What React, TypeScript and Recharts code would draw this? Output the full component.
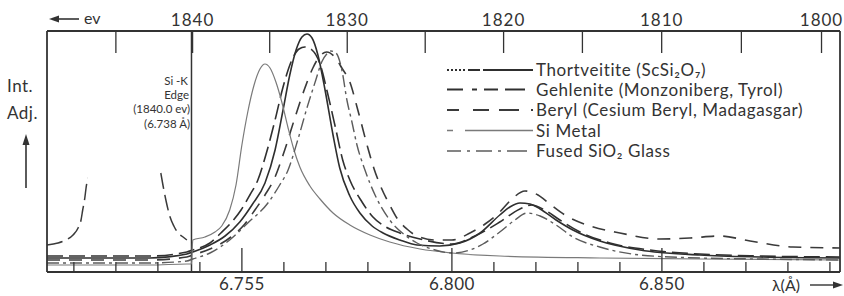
import React from 'react';
import { LineChart, Line, XAxis, YAxis, ReferenceLine } from 'recharts';

// ---------- axes / constants ----------
const HC = 12398.4; // eV·Å, converts the top energy scale to wavelength
const xDomain: [number, number] = [6.7036, 6.8924];
const yDomain: [number, number] = [0, 241];
const wavelengthTicks = [6.71, 6.72, 6.73, 6.74, 6.75, 6.76, 6.77, 6.78, 6.79, 6.80, 6.81, 6.82, 6.83, 6.84, 6.85, 6.86, 6.87, 6.88, 6.89];
const wavelengthLabelAt = [6.75, 6.80, 6.85];
const wavelengthLabels = ['6.755', '6.800', '6.850'];
const energyTicks = [1845, 1840, 1835, 1830, 1825, 1820, 1815, 1810, 1805, 1800];
const energyLabels = [1840, 1830, 1820, 1810, 1800];
const edgeWavelength = 6.738;
const seriesNames = [
  'Thortveitite (ScSi₂O₇)',
  'Gehlenite (Monzoniberg, Tyrol)',
  'Beryl (Cesium Beryl, Madagasgar)',
  'Si Metal',
  'Fused SiO₂ Glass',
];

// ---------- series (wavelength Å, adjusted intensity) ----------
const thortveitite: [number, number][] = [
  [6.7036, 14], [6.7281, 14], [6.7369, 18], [6.7383, 20], [6.7424, 27], [6.746, 36], [6.7495, 50],
  [6.7524, 67], [6.7555, 89], [6.7579, 122], [6.7598, 162], [6.7614, 197], [6.7629, 222], [6.7643, 235],
  [6.7655, 238], [6.7667, 234], [6.7681, 217], [6.7698, 182], [6.7717, 137], [6.7733, 104], [6.7757, 76],
  [6.7781, 59], [6.781, 46], [6.7836, 39], [6.7876, 32], [6.7917, 27], [6.7971, 26], [6.8019, 29],
  [6.8067, 39], [6.8114, 57], [6.8138, 65], [6.8162, 69], [6.8186, 68], [6.821, 63], [6.8248, 52],
  [6.8288, 42], [6.8352, 31], [6.8448, 22], [6.859, 17], [6.8733, 15], [6.8924, 14],
];
const gehlenite: [number, number][] = [
  [6.7036, 16], [6.7281, 16], [6.7369, 20], [6.7383, 22], [6.7424, 29], [6.745, 39], [6.7476, 50],
  [6.7498, 62], [6.7519, 77], [6.7538, 92], [6.7557, 117], [6.7579, 152], [6.7598, 185], [6.7619, 212],
  [6.7636, 223], [6.765, 225], [6.7667, 222], [6.7686, 208], [6.7705, 177], [6.7724, 142], [6.774, 112],
  [6.7757, 92], [6.7786, 70], [6.7812, 55], [6.7843, 45], [6.7876, 39], [6.7924, 33], [6.8, 28],
  [6.8055, 36], [6.8114, 50], [6.8162, 63], [6.819, 67], [6.8221, 62], [6.8257, 52], [6.8305, 40],
  [6.8376, 29], [6.8471, 22], [6.859, 18], [6.8733, 16], [6.8924, 15],
];
const beryl: [number, number][] = [
  [6.7036, 12], [6.7281, 12], [6.7369, 15], [6.7383, 17], [6.7424, 23], [6.7474, 35], [6.7507, 48],
  [6.7531, 62], [6.7555, 77], [6.7579, 95], [6.7602, 122], [6.7626, 154], [6.765, 184], [6.7669, 204],
  [6.7686, 216], [6.7702, 220], [6.7721, 215], [6.7738, 204], [6.7757, 190], [6.7776, 162], [6.7798, 127],
  [6.7814, 104], [6.7829, 87], [6.7852, 67], [6.7869, 54], [6.7893, 43], [6.7917, 36], [6.796, 32],
  [6.8, 32], [6.8043, 39], [6.8079, 48], [6.8114, 60], [6.8143, 73], [6.8174, 81], [6.8205, 77],
  [6.8233, 68], [6.8269, 57], [6.8329, 46], [6.84, 39], [6.8495, 33], [6.8567, 34], [6.8638, 36],
  [6.871, 31], [6.8812, 25], [6.8924, 24],
];
const siMetal: [number, number][] = [
  [6.7036, 7], [6.7281, 7], [6.7369, 8], [6.738, 8], [6.7383, 32], [6.7412, 35], [6.7436, 40],
  [6.7452, 46], [6.7471, 62], [6.7486, 87], [6.75, 127], [6.7514, 160], [6.7529, 187], [6.7543, 203],
  [6.7555, 208], [6.7567, 204], [6.7581, 190], [6.7595, 170], [6.761, 144], [6.7624, 122], [6.7638, 105],
  [6.7662, 86], [6.7686, 73], [6.7717, 59], [6.7757, 47], [6.7805, 37], [6.7852, 30], [6.7924, 23],
  [6.8, 19], [6.8114, 16], [6.8352, 14], [6.859, 13], [6.8924, 12],
];
const fusedSiO2: [number, number][] = [
  [6.7036, 9], [6.7281, 9], [6.7369, 11], [6.7383, 13], [6.7424, 19], [6.7471, 32], [6.7514, 49],
  [6.7562, 69], [6.759, 87], [6.761, 102], [6.7633, 132], [6.7657, 167], [6.7676, 192], [6.769, 210],
  [6.7702, 218], [6.7712, 221], [6.7724, 219], [6.7738, 202], [6.775, 172], [6.7762, 150], [6.7774, 127],
  [6.7793, 102], [6.7817, 77], [6.7852, 52], [6.7888, 37], [6.7917, 29], [6.796, 22], [6.8, 19],
  [6.8043, 22], [6.8074, 28], [6.8114, 40], [6.815, 52], [6.8179, 59], [6.821, 56], [6.8248, 47],
  [6.8288, 35], [6.8352, 25], [6.8448, 17], [6.859, 14], [6.8733, 13], [6.8924, 12],
];
const preEdge: [number, number | null][] = [
  [6.7036, 27], [6.7062, 29], [6.7081, 32], [6.7098, 37], [6.711, 44], [6.7117, 52], [6.7121, 62],
  [6.7126, 74], [6.7129, 84], [6.7133, 94], [6.722, null],
  [6.7307, 99], [6.7312, 87], [6.7319, 72], [6.7329, 55], [6.7338, 46], [6.7348, 39], [6.736, 35], [6.7369, 32],
];

const INK = '#333333';
const FONT = 'Lato, "Noto Sans", "DejaVu Sans", sans-serif';

const toRows = (pts: [number, number | null][]) => pts.map(([l, v]) => ({ l, v }));

const series = [
  { name: seriesNames[0], data: thortveitite, stroke: '#2e2e2e', width: 1.6, dash: undefined as string | undefined, legendDash: '2 2 2 2 2 2 2 2 2 3 12 3 200 0' },
  { name: seriesNames[1], data: gehlenite, stroke: '#303030', width: 1.6, dash: '16 6', legendDash: '16 9 5 7 14 7 20' },
  { name: seriesNames[2], data: beryl, stroke: '#3a3a3a', width: 1.6, dash: '13 9', legendDash: '12 14 16 10 20' },
  { name: seriesNames[3], data: siMetal, stroke: '#7a7a7a', width: 1.2, dash: undefined, legendDash: '6 12 200 0' },
  { name: seriesNames[4], data: fusedSiO2, stroke: '#5c5c5c', width: 1.4, dash: '12 4 3 4', legendDash: '14 6 3 6 16 6 3 6 20' },
];

const BottomTick = (props: any) => {
  const { x, y, payload } = props;
  const idx = wavelengthLabelAt.findIndex((t) => Math.abs(t - payload.value) < 1e-6);
  const major = idx >= 0;
  return (
    <g>
      <line x1={x} x2={x} y1={y} y2={y - (major ? 24 : 10)} stroke={INK} strokeWidth={1.3} />
      {major && (
        <text x={x} y={y + 18} textAnchor="middle" fontSize={17} fontFamily={FONT} fill={INK} letterSpacing={0.5}>
          {wavelengthLabels[idx]}
        </text>
      )}
    </g>
  );
};

const TopTick = (props: any) => {
  const { x, y, payload } = props;
  const e = Math.round(HC / payload.value);
  const labeled = energyLabels.includes(e);
  return (
    <g>
      <line x1={x} x2={x} y1={y} y2={y + 22} stroke={INK} strokeWidth={1.3} />
      {labeled && (
        <text x={x} y={y - 5} textAnchor="middle" fontSize={17} fontFamily={FONT} fill={INK} letterSpacing={1}>
          {e}
        </text>
      )}
    </g>
  );
};

const legendRowsY = [70, 89.5, 110, 130.5, 151];

export default function App() {
  return (
    <div style={{ position: 'absolute', left: 0, top: 0, width: 844, height: 296, background: '#fff' }}>
      <LineChart width={844} height={296} margin={{ top: 0, right: 0, bottom: 0, left: 0 }}>
        <XAxis
          dataKey="l"
          type="number"
          domain={xDomain}
          allowDataOverflow
          ticks={wavelengthTicks}
          interval={0}
          height={24}
          tickSize={0}
          tickMargin={0}
          tickLine={false}
          tick={<BottomTick />}
          axisLine={{ stroke: INK, strokeWidth: 1.8 }}
        />
        <XAxis
          xAxisId="top"
          dataKey="l"
          orientation="top"
          type="number"
          domain={xDomain}
          allowDataOverflow
          ticks={energyTicks.map((E) => HC / E)}
          interval={0}
          height={31}
          tickSize={0}
          tickMargin={0}
          tickLine={false}
          tick={<TopTick />}
          axisLine={{ stroke: INK, strokeWidth: 1.8 }}
        />
        <YAxis type="number" domain={yDomain} width={47} tick={false} tickLine={false} axisLine={{ stroke: INK, strokeWidth: 1.8 }} />
        <YAxis yAxisId="right" orientation="right" type="number" domain={yDomain} width={4} tick={false} tickLine={false} axisLine={{ stroke: INK, strokeWidth: 1.8 }} />
        <ReferenceLine x={edgeWavelength} stroke={INK} strokeWidth={1.5} />
        <Line
          xAxisId="top"
          data={toRows(preEdge)}
          dataKey="v"
          type="monotone"
          stroke="#3a3a3a"
          strokeWidth={1.5}
          strokeDasharray="16 6"
          dot={false}
          isAnimationActive={false}
          connectNulls={false}
        />
        {series.map((s) => (
          <Line
            key={s.name}
            name={s.name}
            data={toRows(s.data)}
            dataKey="v"
            type="monotone"
            stroke={s.stroke}
            strokeWidth={s.width}
            strokeDasharray={s.dash}
            dot={false}
            isAnimationActive={false}
          />
        ))}
      </LineChart>
      <svg
        width={844}
        height={296}
        style={{ position: 'absolute', left: 0, top: 0, pointerEvents: 'none' }}
        fontFamily={FONT}
      >
        {/* ev arrow */}
        <line x1={56} y1={19} x2={79} y2={19} stroke={INK} strokeWidth={1.6} />
        <polygon points="49,19 59,15.5 59,22.5" fill={INK} />
        <text x={84} y={24} fontSize={16} fill={INK}>ev</text>
        {/* y label */}
        <text x={7} y={92} fontSize={17} fill={INK} letterSpacing={0.5}>Int.</text>
        <text x={7} y={119} fontSize={17} fill={INK} letterSpacing={0.5}>Adj.</text>
        <line x1={26} y1={188} x2={26} y2={142} stroke={INK} strokeWidth={1.6} />
        <polygon points="26,134 22.5,145 29.5,145" fill={INK} />
        {/* edge annotation */}
        <g fontSize={11.5} fill={INK} textAnchor="end">
          <text x={188} y={85}>Si -K</text>
          <text x={189} y={99}>Edge</text>
          <text x={190} y={113}>(1840.0 ev)</text>
          <text x={190} y={128}>(6.738 Å)</text>
        </g>
        {/* lambda label */}
        <text x={772} y={291} fontSize={16} fill={INK}>λ(Å)</text>
        <line x1={810} y1={285} x2={836} y2={285} stroke={INK} strokeWidth={1.4} />
        <polygon points="843,285 833,281.5 833,288.5" fill={INK} />
        {/* legend */}
        {series.map((s, i) => (
          <g key={s.name}>
            <line
              x1={447}
              x2={533}
              y1={legendRowsY[i]}
              y2={legendRowsY[i]}
              stroke={s.stroke}
              strokeWidth={s.width + 0.2}
              strokeDasharray={s.legendDash}
            />
            <text x={536} y={legendRowsY[i] + 6} fontSize={17} fill={INK} letterSpacing={0.6}>
              {s.name}
            </text>
          </g>
        ))}
      </svg>
    </div>
  );
}
